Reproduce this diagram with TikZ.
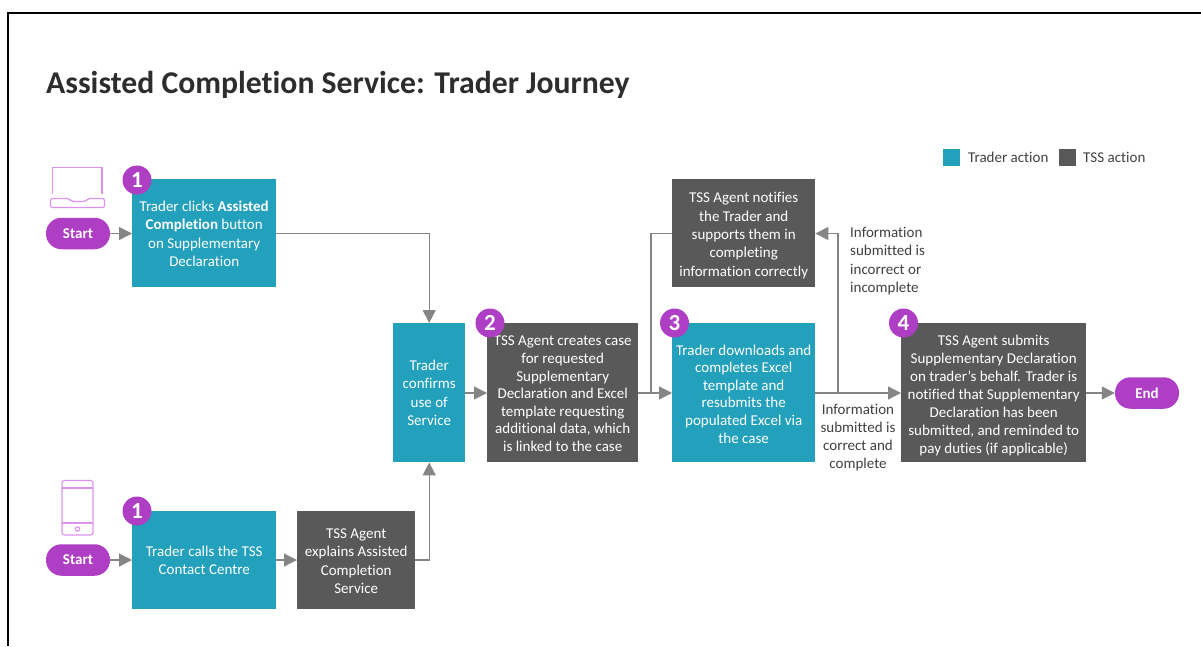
\documentclass[tikz,border=0pt]{standalone}
\usepackage{fontspec}
\setmainfont[Ligatures=NoCommon]{Carlito}
\usetikzlibrary{arrows.meta,calc}
\definecolor{teal1}{HTML}{22A0BC}
\definecolor{dark1}{HTML}{595959}
\definecolor{purp}{HTML}{AE3EC4}
\definecolor{lpurp}{HTML}{DD93EE}
\definecolor{gline}{HTML}{858585}
\definecolor{txt}{HTML}{404040}
\newcommand{\lift}[1]{\rule{0pt}{#1pt}}
\tikzset{
  boxbase/.style={anchor=north west,inner sep=0pt,text=white,align=center,font=\fontsize{15}{18.3}\selectfont},
  tealbox/.style={boxbase,fill=teal1},
  darkbox/.style={boxbase,fill=dark1},
  pill/.style={rounded corners=15.5pt,fill=purp,text=white,inner sep=0pt,minimum width=64pt,minimum height=31.5pt,font=\fontsize{15}{18}\bfseries\selectfont},
  badge/.style={circle,fill=purp,text=white,inner sep=0pt,minimum size=29pt,font=\fontsize{23}{23}\bfseries\selectfont},
  conn/.style={draw=gline,line width=1.2pt},
  arr/.style={conn,-{Triangle[length=13pt,width=13pt,fill=gline]}},
  lab/.style={text=txt,align=center,inner sep=0pt,font=\fontsize{15}{18.3}\selectfont},
  iconl/.style={draw=lpurp,line width=1.2pt,line join=round},
  frameline/.style={line width=2pt,draw=black}
}
\begin{document}
\begin{tikzpicture}[x=1pt,y=-1pt]
\useasboundingbox (0,0) rectangle (1201,646);
\draw[frameline] (8,646) -- (8,12.5) -- (1201,12.5);
\node[anchor=west,inner sep=0pt,text=txt!70!black,font=\fontsize{31.7}{34}\bfseries\selectfont] (title) at (46,84.5) {Assisted Completion Service: Trader Journey};
% legend
\node[fill=teal1,minimum size=17pt,inner sep=0pt] (lgt) at (951.5,157) {};
\node[fill=dark1,minimum size=17pt,inner sep=0pt] (lgd) at (1067.5,157) {};
\node[anchor=west,lab] (lgta) at (968,157) {Trader action};
\node[anchor=west,lab] (lgda) at (1083,157) {TSS action};
% boxes
\node[tealbox,minimum width=144pt,minimum height=108pt] (a) at (132,179) {\lift{11.5}Trader clicks \textbf{Assisted}\\\textbf{Completion} button\\on Supplementary\\Declaration};
\node[tealbox,minimum width=144pt,minimum height=98pt] (b) at (132,511) {Trader calls the TSS\\Contact Centre};
\node[darkbox,minimum width=118pt,minimum height=98pt] (c) at (297,511) {\lift{11.5}TSS Agent\\explains Assisted\\Completion\\Service};
\node[tealbox,minimum width=72pt,minimum height=139pt] (d) at (393,323) {Trader\\confirms\\use of\\Service};
\node[darkbox,minimum width=151pt,minimum height=139pt,font=\fontsize{15}{17.6}\selectfont] (e) at (487,323) {\lift{12}TSS Agent creates case\\for requested\\Supplementary\\Declaration and Excel\\template requesting\\additional data, which\\is linked to the case};
\node[darkbox,minimum width=143pt,minimum height=108pt] (f) at (672,179) {\lift{15}TSS Agent notifies\\the Trader and\\supports them in\\completing\\information correctly};
\node[tealbox,minimum width=143pt,minimum height=139pt,font=\fontsize{15}{17.6}\selectfont] (g) at (672,323) {\lift{13}Trader downloads and\\completes Excel\\template and\\resubmits the\\populated Excel via\\the case};
\node[darkbox,minimum width=185pt,minimum height=139pt,font=\fontsize{15}{18}\selectfont] (h) at (901,323) {\lift{15}TSS Agent submits\\Supplementary Declaration\\on trader’s behalf. Trader is\\notified that Supplementary\\Declaration has been\\submitted, and reminded to\\pay duties (if applicable)};
% pills
\node[pill] (s1) at (78,233.5) {Start};
\node[pill] (s2) at (78,560) {Start};
\node[pill] (en) at (1147,393) {End};
% badges
\node[badge] (b1) at (137,180) {1};
\node[badge] (b1b) at (137,511) {1};
\node[badge] (b2) at (490,323) {2};
\node[badge] (b3) at (674.5,323) {3};
\node[badge] (b4) at (903.5,323) {4};
% junctions
\coordinate (j1) at (651,393);
\coordinate (j2) at (838,393);
% connectors
\draw[arr] (s1.east) -- (s1.east -| a.west);
\draw[arr] (s2.east) -- (s2.east -| b.west);
\draw[arr] (b.east |- s2.east) -- (c.west |- s2.east);
\draw[arr] (a.east |- s1.east) -| (d.north);
\draw[arr] (c.east |- s2.east) -| (d.south);
\draw[arr] (d.east |- j1) -- (e.west |- j1);
\draw[arr] (e.east |- j1) -- (g.west |- j1);
\draw[conn] (f.west |- s1.east) -| (j1);
\draw[arr] (g.east |- j1) -- (h.west |- j1);
\draw[arr] (j2) |- (f.east |- s1.east);
\draw[arr] (h.east |- en.west) -- (en.west);
% connector labels
\node[lab,anchor=north west,align=left] (l1) at (850,227) {Information\\submitted is\\incorrect or\\incomplete};
\node[lab,anchor=north] (l2) at (858,403.5) {Information\\submitted is\\correct and\\complete};
% laptop icon
\draw[iconl] (52.5,193.5) -- (52.5,167.5) -- (102,167.5) -- (102,193.5);
\draw[iconl,rounded corners=2pt] (50.5,198.5) -- (69.5,198.5) -- (71,201.5) -- (86,201.5) -- (87.5,198.5) -- (104.5,198.5) -- (104.5,207.5) -- (50.5,207.5) -- cycle;
% phone icon
\draw[iconl,rounded corners=2.5pt] (62,480.5) rectangle (93,535);
\draw[iconl] (62,488) -- (93,488) (62,523) -- (93,523);
\draw[iconl] (77.5,529) circle (2.2);
\end{tikzpicture}
\end{document}
